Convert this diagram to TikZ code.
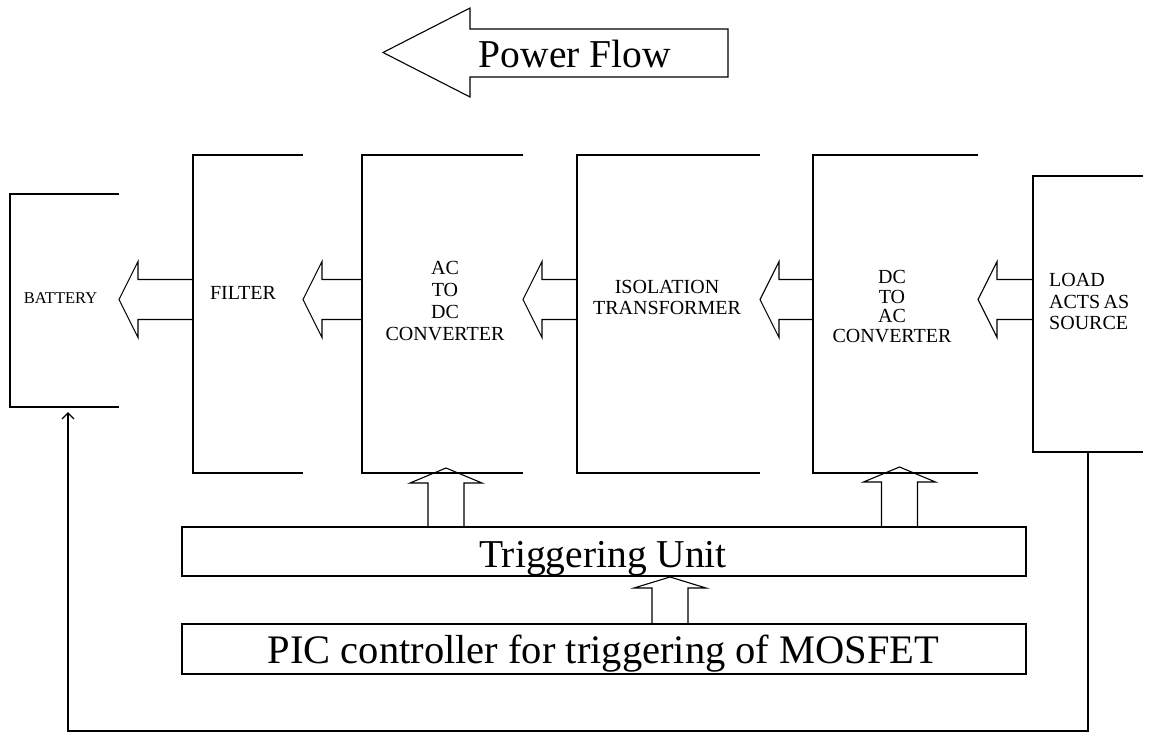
\documentclass[tikz,border=0pt]{standalone}
\usepackage{fontspec}
\setmainfont{Liberation Serif}
\usetikzlibrary{calc,arrows.meta}
\newcommand\drawopenbox[5]{%
  \node[boxarea, minimum width={#4-#2}, minimum height={#5-#3}] (#1) at ({(#2+#4)/2},{(#3+#5)/2}) {};
  \draw[frame] (#1.north east) -- (#1.north west) -- (#1.south west) -- (#1.south east);}
\newcommand\hblock[3]{% #1 source (right box), #2 target (left box), #3 y level
  \draw[barrow] (#2.east |- #3) -- ++(19,-38) -- ++(0,18) -- ($(#1.west |- #3)+(0,-20)$)
    -- ($(#1.west |- #3)+(0,20)$) -- ($(#2.east |- #3)+(19,20)$) -- ++(0,18) -- cycle;}
\newcommand\vblock[5]{% #1 source, #2 target, #3 x level, #4 head length, #5 tip offset
  \draw[barrow] ($(#3 |- #2.south)+(0,#5)$) -- ++(36,#4) -- ++(-18,0) -- ($(#3 |- #1.north)+(18,0)$)
    -- ($(#3 |- #1.north)+(-18,0)$) -- ($(#3 |- #2.south)+(0,#5)+(-18,#4)$) -- ++(-18,0) -- cycle;}
\begin{document}
\begin{tikzpicture}[x=1pt,y=-1pt,
  frame/.style={line width=1.8pt},
  boxarea/.style={inner sep=0pt, outer sep=0pt, draw=none},
  lbl/.style={inner sep=0pt, font=\fontsize{20}{22}\selectfont, align=center},
  big/.style={inner sep=0pt, anchor=base},
  barrow/.style={line width=1.1pt, line join=miter},
  bigbox/.style={draw, line width=1.5pt, inner sep=0pt, outer sep=0pt},
  fb/.style={line width=1.8pt, -{Straight Barb[length=6pt,width=12pt,line width=1.3pt]}}]
\fill[white] (0,0) rectangle (1151,733);
\useasboundingbox (0,0) rectangle (1151,733);

% Power flow arrow
\node[big, font=\fontsize{39.5}{42}\selectfont] (pf) at (575,68) {Power Flow};
\draw[barrow] (383,52.5) -- (470,8) -- (470,29) -- (728,29) -- (728,77) -- (470,77) -- (470,97) -- cycle;

% open boxes
\drawopenbox{battery}{10}{194}{119}{407}
\drawopenbox{filter}{193}{155}{303}{473}
\drawopenbox{acdc}{362}{155}{523}{473}
\drawopenbox{iso}{577}{155}{760}{473}
\drawopenbox{dcac}{813}{155}{978}{473}
\drawopenbox{load}{1033}{176}{1143}{452}

% labels
\node[lbl, font=\fontsize{16.5}{18}\selectfont] (battery-l) at (60.5,298) {BATTERY};
\node[lbl] (filter-l) at (243,293) {FILTER};
\node[lbl] (acdc-l) at (445,301.5) {AC\\TO\\DC\\CONVERTER};
\node[lbl, font=\fontsize{20}{21}\selectfont] (iso-l) at (667,297.5) {ISOLATION\\TRANSFORMER};
\node[lbl, font=\fontsize{20}{19.5}\selectfont] (dcac-l) at (892,306.5) {DC\\TO\\AC\\CONVERTER};
\node[lbl, align=left, anchor=west, font=\fontsize{20}{21.5}\selectfont] (load-l) at (1049,301.5) {LOAD\\ACTS\,AS\\SOURCE};

% control boxes
\node[bigbox, minimum width=844, minimum height=49] (trig) at (604,551.5) {};
\node[big, font=\fontsize{39.5}{42}\selectfont] (trig-l) at (603,567) {Triggering Unit};
\node[bigbox, minimum width=844, minimum height=50] (pic) at (604,649) {};
\node[big, font=\fontsize{40.5}{42}\selectfont] (pic-l) at (603.5,663) {PIC controller for triggering of MOSFET};

% horizontal block arrows (power flow)
\coordinate (ya) at (0,299.5);
\hblock{filter}{battery}{ya}
\hblock{acdc}{filter}{ya}
\hblock{iso}{acdc}{ya}
\hblock{dcac}{iso}{ya}
\hblock{load}{dcac}{ya}

% vertical block arrows (triggering)
\coordinate (xa) at (446,0);
\coordinate (xb) at (899.5,0);
\coordinate (xc) at (670,0);
\vblock{trig}{acdc}{xa}{15}{-5}
\vblock{trig}{dcac}{xb}{15}{-6}
\vblock{pic}{trig}{xc}{11}{1}

% feedback line
\coordinate (fbl) at (68,731);
\draw[fb] (load.south) |- (fbl) -- ($(battery.south -| fbl)+(0,5)$);
\end{tikzpicture}
\end{document}
